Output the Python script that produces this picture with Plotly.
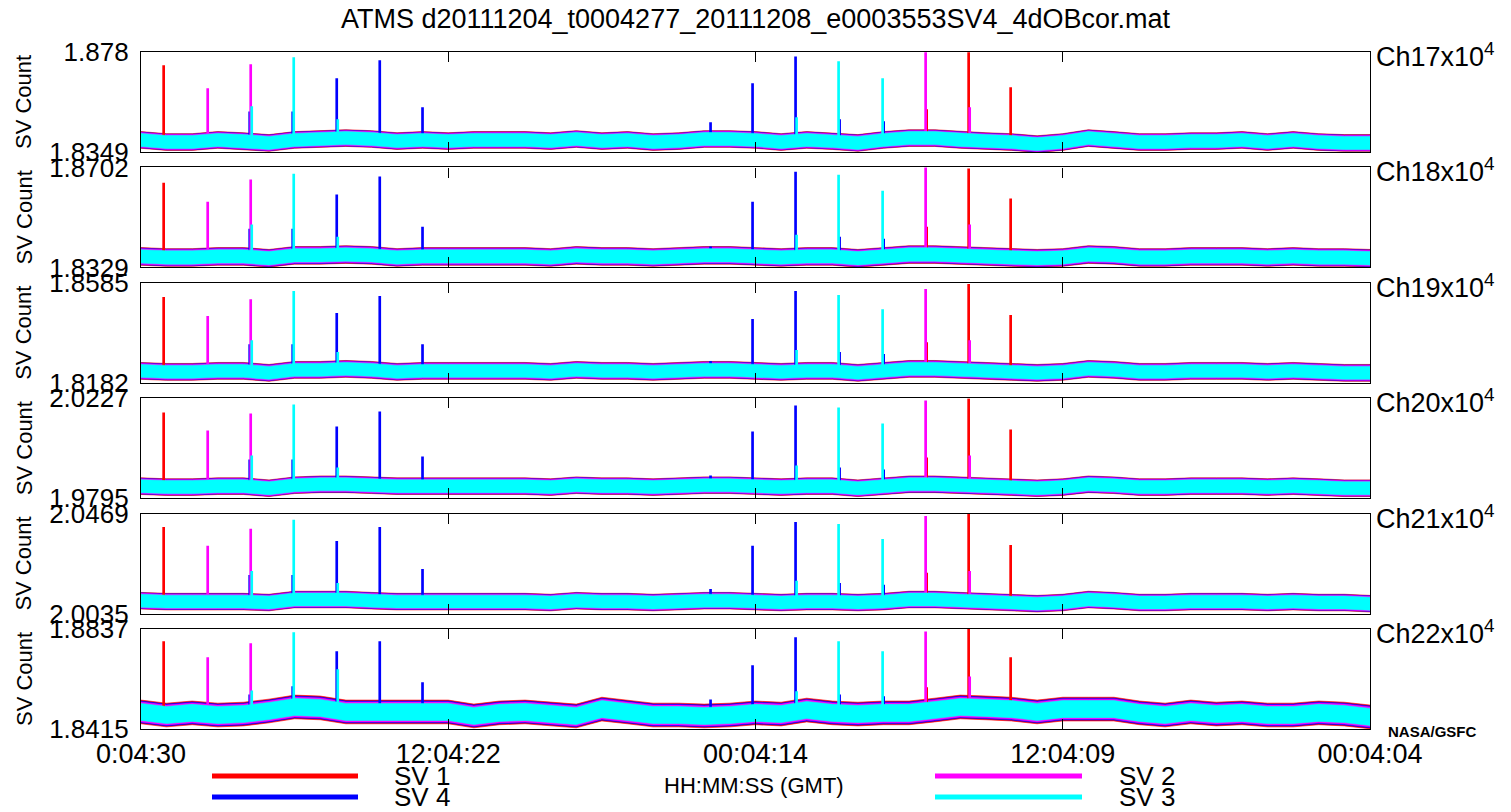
import plotly.graph_objects as go

# ---------------- data ----------------
hours = list(range(49))                     # hours since 0:04:30 GMT
tick_vals = [0, 12, 24, 36, 48]
tick_text = ['0:04:30', '12:04:22', '00:04:14', '12:04:09', '00:04:04']

channels = ['Ch17', 'Ch18', 'Ch19', 'Ch20', 'Ch21', 'Ch22']
y_min = [1.8349, 1.8329, 1.8182, 1.9795, 2.0035, 1.8415]
y_max = [1.878, 1.8702, 1.8585, 2.0227, 2.0469, 1.8837]
y_min_text = ['1.8349', '1.8329', '1.8182', '1.9795', '2.0035', '1.8415']
y_max_text = ['1.878', '1.8702', '1.8585', '2.0227', '2.0469', '1.8837']

# hourly level of the noisy space-view band (x10^4 counts)
level_ch17 = [1.8401,1.8392,1.8392,1.8401,1.8396,1.8388,1.8401,1.8405,1.8409,1.8405,
              1.8396,1.8401,1.8396,1.8401,1.8401,1.8401,1.8396,1.8405,1.8396,1.8401,
              1.8392,1.8396,1.8405,1.8405,1.8401,1.8392,1.8401,1.8396,1.8388,1.8401,
              1.8409,1.8409,1.8401,1.8396,1.8392,1.8383,1.8392,1.8409,1.8401,1.8392,
              1.8392,1.8396,1.8396,1.8401,1.8392,1.8401,1.8392,1.8388,1.8388]
level_ch18 = [1.8370,1.8366,1.8366,1.8370,1.8370,1.8363,1.8374,1.8374,1.8377,1.8374,
              1.8366,1.8370,1.8370,1.8370,1.8370,1.8370,1.8366,1.8374,1.8370,1.8370,
              1.8366,1.8370,1.8374,1.8374,1.8370,1.8366,1.8370,1.8370,1.8363,1.8370,
              1.8377,1.8377,1.8374,1.8370,1.8366,1.8363,1.8366,1.8377,1.8374,1.8366,
              1.8366,1.8370,1.8370,1.8370,1.8366,1.8370,1.8366,1.8366,1.8363]
level_ch19 = [1.8230,1.8226,1.8226,1.8230,1.8230,1.8222,1.8234,1.8234,1.8238,1.8234,
              1.8226,1.8230,1.8230,1.8230,1.8230,1.8230,1.8226,1.8234,1.8230,1.8230,
              1.8226,1.8230,1.8234,1.8234,1.8230,1.8226,1.8230,1.8230,1.8222,1.8230,
              1.8238,1.8238,1.8234,1.8230,1.8226,1.8222,1.8226,1.8238,1.8234,1.8226,
              1.8226,1.8230,1.8230,1.8230,1.8226,1.8230,1.8226,1.8222,1.8222]
level_ch20 = [1.9847,1.9843,1.9843,1.9847,1.9847,1.9838,1.9851,1.9855,1.9855,1.9851,
              1.9847,1.9847,1.9847,1.9847,1.9847,1.9847,1.9843,1.9851,1.9847,1.9847,
              1.9843,1.9847,1.9851,1.9851,1.9847,1.9843,1.9847,1.9847,1.9838,1.9847,
              1.9855,1.9855,1.9851,1.9847,1.9843,1.9838,1.9843,1.9855,1.9851,1.9843,
              1.9843,1.9847,1.9847,1.9847,1.9843,1.9847,1.9843,1.9838,1.9838]
level_ch21 = [2.0091,2.0087,2.0087,2.0087,2.0087,2.0083,2.0096,2.0096,2.0096,2.0091,
              2.0087,2.0087,2.0087,2.0087,2.0087,2.0087,2.0083,2.0091,2.0087,2.0087,
              2.0083,2.0087,2.0091,2.0091,2.0087,2.0083,2.0087,2.0087,2.0083,2.0087,
              2.0096,2.0096,2.0091,2.0087,2.0083,2.0078,2.0083,2.0096,2.0091,2.0083,
              2.0083,2.0087,2.0087,2.0087,2.0083,2.0087,2.0083,2.0083,2.0078]
level_ch22 = [1.8487,1.8474,1.8483,1.8474,1.8478,1.8491,1.8508,1.8504,1.8487,1.8487,
              1.8487,1.8487,1.8487,1.8470,1.8483,1.8487,1.8478,1.8470,1.8499,1.8487,
              1.8474,1.8474,1.8470,1.8474,1.8483,1.8478,1.8495,1.8483,1.8478,1.8483,
              1.8483,1.8495,1.8508,1.8504,1.8499,1.8487,1.8499,1.8499,1.8499,1.8483,
              1.8474,1.8487,1.8478,1.8483,1.8474,1.8474,1.8483,1.8478,1.8466]
levels = [level_ch17, level_ch18, level_ch19, level_ch20, level_ch21, level_ch22]

# noise half-amplitude of each SV per channel
noise_sv1 = [0.0036, 0.0033, 0.0034, 0.0036, 0.0036, 0.0050]
noise_sv4 = [0.0034, 0.0031, 0.0032, 0.0034, 0.0034, 0.0046]
noise_sv2 = [0.0032, 0.0029, 0.0030, 0.0032, 0.0032, 0.0042]
noise_sv3 = [0.0028, 0.0025, 0.0026, 0.0028, 0.0028, 0.0036]

# moon-intrusion spikes: times (h) and peak values per channel
sv1_times = [0.86, 30.66, 32.30, 33.94]
sv1_peaks = [[1.8720, 1.8530, 1.8776, 1.8625],
             [1.8642, 1.8478, 1.8695, 1.8583],
             [1.8525, 1.8343, 1.8577, 1.8452],
             [2.0162, 1.9968, 2.0223, 2.0089],
             [2.0408, 2.0209, 2.0465, 2.0330],
             [1.8782, 1.8588, 1.8837, 1.8715]]
sv2_times = [2.58, 4.26, 30.62, 32.34]
sv2_peaks = [[1.8621, 1.8724, 1.8776, 1.8539],
             [1.8571, 1.8654, 1.8702, 1.8486],
             [1.8448, 1.8516, 1.8557, 1.8351],
             [2.0084, 2.0158, 2.0214, 1.9976],
             [2.0326, 2.0400, 2.0456, 2.0217],
             [1.8715, 1.8774, 1.8824, 1.8634]]
sv3_times = [4.30, 5.94, 7.66, 25.58, 27.22, 28.94]
sv3_peaks = [[1.8543, 1.8754, 1.8487, 1.8496, 1.8737, 1.8664],
             [1.8486, 1.8676, 1.8441, 1.8448, 1.8672, 1.8612],
             [1.8351, 1.8549, 1.8303, 1.8311, 1.8533, 1.8476],
             [1.9976, 2.0197, 1.9925, 1.9933, 2.0184, 2.0115],
             [2.0217, 2.0439, 2.0165, 2.0174, 2.0421, 2.0356],
             [1.8575, 1.8820, 1.8664, 1.8571, 1.8782, 1.8740]]
sv4_times = [4.22, 5.90, 7.62, 9.30, 10.97, 22.22, 23.86, 25.54, 27.26, 28.98]
sv4_peaks = [[1.8521, 1.8521, 1.8664, 1.8741, 1.8539, 1.8474, 1.8642, 1.8758, 1.8487, 1.8478],
             [1.8471, 1.8471, 1.8598, 1.8665, 1.8478, 1.8404, 1.8571, 1.8683, 1.8441, 1.8433],
             [1.8335, 1.8335, 1.8460, 1.8529, 1.8335, 1.8267, 1.8436, 1.8549, 1.8303, 1.8295],
             [1.9959, 1.9959, 2.0102, 2.0167, 1.9972, 1.9890, 2.0080, 2.0192, 1.9925, 1.9916],
             [2.0200, 2.0200, 2.0347, 2.0408, 2.0226, 2.0139, 2.0326, 2.0430, 2.0165, 2.0157],
             [1.8558, 1.8592, 1.8740, 1.8782, 1.8609, 1.8537, 1.8681, 1.8799, 1.8558, 1.8550]]

series_names = ['SV 1', 'SV 2', 'SV 3', 'SV 4']
series_colors = {'SV 1': '#FF0000', 'SV 2': '#FF00FF', 'SV 3': '#00FFFF', 'SV 4': '#0000FF'}

# ---------------- layout helpers ----------------
W, H = 1511, 812
L, R, T, B = 141, 1370, 52, 729
PW, PH = R - L, B - T
panel_h = 100
panel_step = (PH - panel_h) / 5.0

def px2paper(px):
    return (px - L) / PW

def py2paper(py):
    return (B - py) / PH

FONT = 'Liberation Sans, Arial, sans-serif'

fig = go.Figure()


def band(k, hw, color, opacity=1.0):
    lv = levels[k]
    up = [v + hw for v in lv]
    lo = [v - hw for v in lv]
    fig.add_trace(go.Scatter(
        x=hours + hours[::-1], y=up + lo[::-1], fill='toself', mode='lines',
        line=dict(width=0.6, color=color), fillcolor=color, opacity=opacity,
        xaxis='x' if k == 0 else f'x{k+1}', yaxis='y' if k == 0 else f'y{k+1}',
        showlegend=False, hoverinfo='skip'))


def spikes(k, times, peaks, color):
    lv = levels[k]
    xs, ys = [], []
    for t, p in zip(times, peaks[k]):
        base = lv[int(round(t))]
        xs += [t, t, t + 0.05, t + 0.05, None]
        ys += [base, p, p, base, None]
    fig.add_trace(go.Scatter(
        x=xs, y=ys, mode='lines', line=dict(width=1.4, color=color),
        xaxis='x' if k == 0 else f'x{k+1}', yaxis='y' if k == 0 else f'y{k+1}',
        showlegend=False, hoverinfo='skip'))


for k in range(6):
    band(k, noise_sv1[k], series_colors['SV 1'])
    band(k, noise_sv4[k], series_colors['SV 4'])
    band(k, noise_sv2[k], series_colors['SV 2'])
    spikes(k, sv1_times, sv1_peaks, series_colors['SV 1'])
    spikes(k, sv4_times, sv4_peaks, series_colors['SV 4'])
    spikes(k, sv2_times, sv2_peaks, series_colors['SV 2'])
    band(k, noise_sv3[k], series_colors['SV 3'])
    spikes(k, sv3_times, sv3_peaks, series_colors['SV 3'])

layout = dict(
    width=W, height=H, autosize=False,
    margin=dict(l=L, r=W - R, t=T, b=H - B, pad=0),
    paper_bgcolor='white', plot_bgcolor='white',
    font=dict(family=FONT, color='black'),
    showlegend=False,
    title=dict(text='ATMS d20111204_t0004277_20111208_e0003553SV4_4dOBcor.mat',
               x=0.5, xref='paper', xanchor='center',
               y=1 - 19 / H, yref='container', yanchor='middle',
               font=dict(size=27, family=FONT, color='black')),
)

annotations = []
for k in range(6):
    top = T + k * panel_step
    bot = top + panel_h
    xa = 'xaxis' if k == 0 else f'xaxis{k+1}'
    ya = 'yaxis' if k == 0 else f'yaxis{k+1}'
    layout[xa] = dict(
        domain=[0, 1], range=[0, 48], anchor='y' if k == 0 else f'y{k+1}',
        tickmode='array', tickvals=tick_vals, ticktext=tick_text,
        ticks='inside', ticklen=10, tickwidth=1, tickcolor='black',
        showline=True, linecolor='black', linewidth=1.2, mirror='allticks',
        showgrid=False, zeroline=False, showticklabels=(k == 5),
        tickfont=dict(size=27, family=FONT, color='black'),
    )
    layout[ya] = dict(
        domain=[py2paper(bot), py2paper(top)], range=[y_min[k], y_max[k]],
        anchor='x' if k == 0 else f'x{k+1}',
        tickmode='array', tickvals=[y_min[k], y_max[k]],
        ticktext=[y_min_text[k], y_max_text[k]],
        ticks='inside', ticklen=10, tickwidth=1, tickcolor='black',
        showline=True, linecolor='black', linewidth=1.2, mirror='allticks',
        showgrid=False, zeroline=False, ticklabelstandoff=6,
        tickfont=dict(size=26, family=FONT, color='black'),
    )
    annotations.append(dict(
        text='SV Count', textangle=-90, x=px2paper(24), y=py2paper(top + panel_h / 2),
        xref='paper', yref='paper', xanchor='center', yanchor='middle', showarrow=False,
        font=dict(size=22, family=FONT, color='black')))
    annotations.append(dict(
        text=channels[k] + 'x10<sup>4</sup>', x=px2paper(1374), y=py2paper(top + 3),
        xref='paper', yref='paper', xanchor='left', yanchor='middle', showarrow=False,
        font=dict(size=27, family=FONT, color='black')))

annotations.append(dict(
    text='<b>NASA/GSFC</b>', x=px2paper(1386), y=py2paper(731),
    xref='paper', yref='paper', xanchor='left', yanchor='middle', showarrow=False,
    font=dict(size=15, family=FONT, color='black')))
annotations.append(dict(
    text='HH:MM:SS (GMT)', x=px2paper(754), y=py2paper(786),
    xref='paper', yref='paper', xanchor='center', yanchor='middle', showarrow=False,
    font=dict(size=22, family=FONT, color='black')))

# legend (two columns, drawn manually)
legend_rows = [('SV 1', 212, 358, 392, 776), ('SV 4', 212, 358, 392, 797),
               ('SV 2', 935, 1082, 1117, 776), ('SV 3', 935, 1082, 1117, 797)]
shapes = []
for name, x0, x1, xt, yy in legend_rows:
    shapes.append(dict(type='line', xref='paper', yref='paper',
                       x0=px2paper(x0), x1=px2paper(x1), y0=py2paper(yy), y1=py2paper(yy),
                       line=dict(color=series_colors[name], width=5)))
    annotations.append(dict(
        text=name, x=px2paper(xt), y=py2paper(yy), xref='paper', yref='paper',
        xanchor='left', yanchor='middle', showarrow=False,
        font=dict(size=26, family=FONT, color='black')))

layout['annotations'] = annotations
layout['shapes'] = shapes
fig.update_layout(**layout)

fig.write_html('out.html')
